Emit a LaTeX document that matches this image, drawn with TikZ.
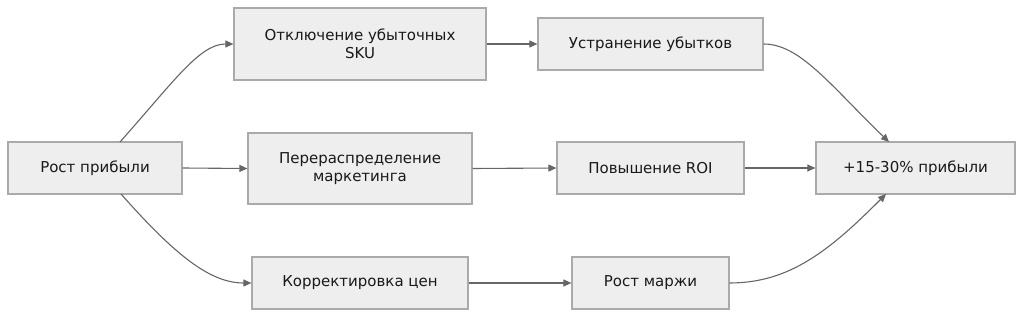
\documentclass[tikz,border=0pt]{standalone}
\usepackage{fontspec}
\setmainfont{DejaVu Sans}
\usetikzlibrary{arrows.meta}
\definecolor{boxfill}{HTML}{EEEEEE}
\definecolor{boxline}{HTML}{AAAAAA}
\definecolor{edge}{HTML}{666666}
\tikzset{
  box/.style={draw=boxline, fill=boxfill, line width=1.2pt, inner sep=0pt, align=center,
    font=\fontsize{15}{17.5}\selectfont, text=black!90},
  conn/.style={draw=edge, line width=1.1pt, -{Triangle[length=8pt,width=7pt]}},
}
\begin{document}
\begin{tikzpicture}[x=1pt,y=-1pt]
\useasboundingbox (0,0) rectangle (1024,318);
\node[box, minimum width=174pt, minimum height=52pt] (rp) at (95,168) {Рост прибыли};
\node[box, minimum width=252pt, minimum height=72pt] (ot) at (360,44) {Отключение убыточных\\SKU};
\node[box, minimum width=224pt, minimum height=71pt] (pm) at (360,168.5) {Перераспределение\\маркетинга};
\node[box, minimum width=216pt, minimum height=52pt] (kc) at (360,283) {Корректировка цен};
\node[box, minimum width=225pt, minimum height=52pt] (uu) at (650.5,44) {Устранение убытков};
\node[box, minimum width=187pt, minimum height=52pt] (roi) at (650.5,168) {Повышение ROI};
\node[box, minimum width=157pt, minimum height=52pt] (rm) at (650.5,283) {Рост маржи};
\node[box, minimum width=199pt, minimum height=52pt] (res) at (915.5,168) {+15-30\% прибыли};
\coordinate (rpT) at (120,142);
\coordinate (rpB) at (121,194);
\coordinate (resT) at (889,142);
\coordinate (resB) at (886,194);
\draw[conn] (rpT) .. controls (175,80) and (200,44) .. (ot.west);
\draw[conn] (rp.east) -- (pm.west);
\draw[conn] (rpB) .. controls (175,255) and (210,283) .. (kc.west);
\draw[conn] (ot.east) -- (uu.west);
\draw[conn] (pm.east) -- (roi.west);
\draw[conn] (kc.east) -- (rm.west);
\draw[conn] (uu.east) .. controls (800,44) and (830,85) .. (resT);
\draw[conn] (roi.east) -- (res.west);
\draw[conn] (rm.east) .. controls (790,283) and (830,250) .. (resB);
\end{tikzpicture}
\end{document}
